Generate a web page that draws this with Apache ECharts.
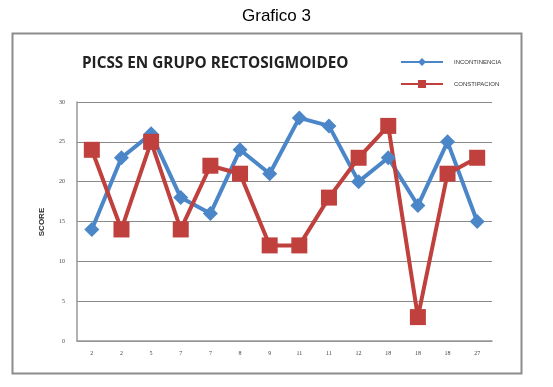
<!DOCTYPE html>
<html><head><meta charset="utf-8">
<script src="https://cdn.jsdelivr.net/npm/echarts@6/dist/echarts.min.js"></script>
<style>html,body{margin:0;padding:0;background:#fff}#c{width:553px;height:387px}</style>
</head><body><div id="c"></div>
<script>
const categories = ['2','2','5','7','7','8','9','11','11','12','18','18','18','27'];
const incontinencia = [14,23,26,18,16,24,21,28,27,20,23,17,25,15];
const constipacion = [24,14,25,14,22,21,12,12,18,23,27,3,21,23];
const yTicks = [0,5,10,15,20,25,30];

const chart = echarts.init(document.getElementById('c'));
chart.setOption({
  animation:false,
  backgroundColor:'#fff',
  graphic:[
    {type:'rect',shape:{x:12.5,y:33.5,width:509,height:340},style:{fill:'none',stroke:'#8c8c8c',lineWidth:2}},
    {type:'text',left:'center',top:8,style:{text:'Grafico 3',font:'17px "Liberation Sans", Arial',fill:'#000'}},
    {type:'text',left:82,top:56,style:{text:'PICSS EN GRUPO RECTOSIGMOIDEO',font:'bold 15.3px "Open Sans", "Liberation Sans"',fill:'#222'}},
    {type:'text',x:42,y:222,rotation:Math.PI/2,style:{text:'SCORE',font:'bold 8px "Liberation Sans", Arial',fill:'#333',align:'center',verticalAlign:'middle'}}
  ],
  legend:{
    orient:'vertical',left:395,top:53,itemGap:14,itemWidth:42,itemHeight:10,
    textStyle:{fontSize:6,color:'#333',fontFamily:'"Liberation Sans"',padding:[0,0,0,6]},
    data:['INCONTINENCIA','CONSTIPACION']
  },
  grid:{left:77,right:61,top:102,bottom:46},
  xAxis:{
    type:'category',data:categories,boundaryGap:true,
    axisLine:{lineStyle:{color:'#999',width:1.5}},axisTick:{show:false},
    axisLabel:{fontSize:6,color:'#444',margin:9,fontFamily:'"Liberation Serif"'}
  },
  yAxis:{
    type:'value',min:0,max:30,interval:5,
    axisLine:{show:true,lineStyle:{color:'#999',width:1.5}},axisTick:{show:false},
    axisLabel:{fontSize:6,color:'#444',margin:12,fontFamily:'"Liberation Serif"'},
    splitLine:{lineStyle:{color:'#8a8a8a',width:1.2}}
  },
  series:[
    {name:'INCONTINENCIA',type:'line',data:incontinencia,symbol:'diamond',symbolSize:15,
     lineStyle:{color:'#4a86c8',width:4},itemStyle:{color:'#4a86c8'}},
    {name:'CONSTIPACION',type:'line',data:constipacion,symbol:'rect',symbolSize:16,
     lineStyle:{color:'#c0403d',width:4},itemStyle:{color:'#c0403d'}}
  ]
});
</script></body></html>
